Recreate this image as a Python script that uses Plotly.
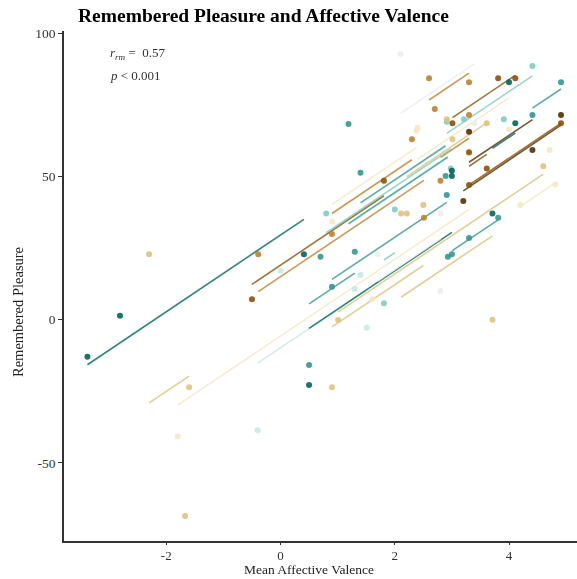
import plotly.graph_objects as go
import numpy as np

# BrBG palette (11 classes)
PALETTE = ["#543005", "#8c510a", "#bf812d", "#dfc27d", "#f6e8c3", "#eeeeee",
           "#c7eae5", "#80cdc1", "#35978f", "#01665e", "#003c30"]

# subject -> palette index
subject_color = [9, 3, 4, 1, 2, 6, 8, 2, 1, 7, 8, 3, 9, 0, 8, 1, 2, 4, 0, 2, 3, 3, 3,
                 7, 8, 8, 8, 9, 5, 5, 4, 4, 1, 7, 4, 9]

# affective valence per subject
subject_x = [
    [-3.38, -2.81, 0.41],
    [-2.30, -1.67, -1.60],
    [-1.80, 1.60, 3.30],
    [-0.50, 1.81],
    [-0.39, 2.51],
    [-0.40, 0.0, 1.30, 1.40, 1.51],
    [0.50, 0.70, 1.30],
    [2.60, 2.70, 3.30],
    [3.01, 3.81, 4.11],
    [2.91, 3.21, 3.91, 4.41],
    [4.41, 4.91],
    [2.21, 2.91, 3.01, 3.61],
    [3.71, 4.00, 4.11],
    [3.30, 4.41],
    [3.00, 3.30, 3.81],
    [3.30, 4.91],
    [2.80, 3.30],
    [2.40, 4.00],
    [3.20, 4.91],
    [0.90, 2.30],
    [0.90, 2.50],
    [2.11, 3.71],
    [1.01, 4.60],
    [0.80, 2.98],
    [0.90, 2.91],
    [1.40, 2.89],
    [1.19, 2.93],
    [0.50, 3.00],
    [2.10, 3.40],
    [1.70, 2.80, 2.80],
    [0.90, 2.38],
    [4.20, 4.81],
    [3.61, 3.30],
    [1.81, 2.00],
    [4.71],
    [3.00],
]
# remembered pleasure per subject
subject_y = [
    [-13.0, 1.4, 22.8],
    [22.8, -68.6, -23.6],
    [-40.8, 7.1, 58.0],
    [7.1, 48.5],
    [22.8, 35.6],
    [-38.6, 17.1, 10.7, 15.6, -2.8],
    [-15.8, 22.0, 23.7],
    [84.3, 73.6, 82.9],
    [68.6, 84.3, 84.3],
    [69.1, 70.0, 70.0, 88.6],
    [71.5, 82.9],
    [37.1, 70.0, 63.0, 68.6],
    [37.1, 82.9, 68.6],
    [65.6, 59.2],
    [22.8, 28.5, 35.6],
    [47.0, 68.6],
    [48.5, 71.5],
    [67.0, 66.5],
    [41.4, 71.5],
    [29.9, 63.0],
    [-23.6, 40.0],
    [37.1, 0.0],
    [-0.1, 53.6],
    [37.1, 52.8],
    [11.5, 43.5],
    [51.3, 50.2],
    [68.3, 22.0],
    [-22.8, 50.2],
    [92.8, 68.6],
    [22.8, 37.1, 10.0],
    [34.3, 66.0],
    [40.0, 47.3],
    [52.8, 58.5],
    [5.7, 38.5],
    [59.2],
    [52.0],
]

RM_SLOPE = 13.4  # common within-subject slope (repeated measures correlation)
R_RM = 0.57
X_TICKS = [-2, 0, 2, 4]
Y_TICKS = [-50, 0, 50, 100]

fig = go.Figure()

# fitted lines
for xs, ys, ci in zip(subject_x, subject_y, subject_color):
    xs = np.array(xs); ys = np.array(ys)
    if len(xs) < 2:
        continue
    mx, my = xs.mean(), ys.mean()
    lx = np.array([xs.min(), xs.max()])
    ly = my + RM_SLOPE * (lx - mx)
    fig.add_trace(go.Scatter(x=lx, y=ly, mode="lines",
                             line=dict(color=PALETTE[ci], width=1.6),
                             opacity=0.8, showlegend=False, hoverinfo="skip"))
# points
for xs, ys, ci in zip(subject_x, subject_y, subject_color):
    fig.add_trace(go.Scatter(x=xs, y=ys, mode="markers",
                             marker=dict(color=PALETTE[ci], size=6, line=dict(width=0)),
                             opacity=0.9, showlegend=False))

font_family = "Liberation Serif, Times New Roman, serif"
fig.update_layout(
    width=577, height=579,
    margin=dict(l=64, r=0, t=31, b=38),
    plot_bgcolor="white", paper_bgcolor="white",
    font=dict(family=font_family, size=13.5, color="#333333"),
    title=dict(text="<b>Remembered Pleasure and Affective Valence</b>",
               x=78/577, xanchor="left", y=1-15/579, yanchor="middle",
               font=dict(family=font_family, size=19.5, color="black")),
    xaxis=dict(range=[-3.79, 5.19], tickvals=X_TICKS, ticktext=[str(v) for v in X_TICKS],
               showgrid=False, zeroline=False, showline=True, linecolor="#333333", linewidth=1.5,
               ticks="outside", ticklen=2, tickcolor="#333333", tickwidth=1,
               tickfont=dict(size=13)),
    yaxis=dict(range=[-77.3, 100.8], tickvals=Y_TICKS, ticktext=[str(v) for v in Y_TICKS],
               showgrid=False, zeroline=False, showline=True, linecolor="#333333", linewidth=1.5,
               ticks="outside", ticklen=4, tickcolor="#333333", tickwidth=1),
)

# axis titles
fig.add_annotation(text="Mean Affective Valence", xref="paper", yref="paper",
                   x=(309-64)/513, y=-(579-541)/510, xanchor="center", yanchor="bottom",
                   showarrow=False, font=dict(family=font_family, size=13.5, color="#222222"))
fig.add_annotation(text="Remembered Pleasure", xref="paper", yref="paper", textangle=-90,
                   x=-(64-18)/513, y=(541-312)/510, xanchor="center", yanchor="middle",
                   showarrow=False, font=dict(family=font_family, size=14.5, color="#222222"))

fig.add_annotation(text=f"<i>r</i><sub><i>rm</i></sub> =  {R_RM:.2f}", xref="paper", yref="paper",
                   x=(108-64)/513, y=(541-54)/510, xanchor="left", yanchor="middle",
                   showarrow=False, font=dict(family=font_family, size=13, color="#333333"))
fig.add_annotation(text="<i>p</i> < 0.001", xref="paper", yref="paper",
                   x=(108-64)/513, y=(541-75)/510, xanchor="left", yanchor="middle",
                   showarrow=False, font=dict(family=font_family, size=13, color="#333333"))

fig.write_html("out.html")
